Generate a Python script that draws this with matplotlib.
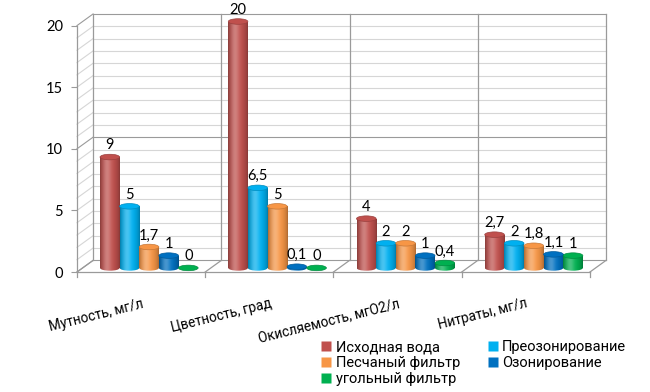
import numpy as np
import matplotlib.pyplot as plt
from matplotlib.patches import Ellipse
from matplotlib.lines import Line2D
from matplotlib.colors import to_rgb

plt.rcParams['font.family'] = ['Roboto', 'DejaVu Sans']

# данные
categories = ['Мутность, мг/л', 'Цветность, град', 'Окисляемость, мгО2/л', 'Нитраты, мг/л']
series_names = ['Исходная вода', 'Преозонирование', 'Песчаный фильтр', 'Озонирование', 'угольный фильтр']
colors = ['#C0504D', '#00B0F0', '#F79646', '#0070C0', '#00B050']
ishodnaya = [9, 20, 4, 2.7]
preozon = [5, 6.5, 2, 2]
pesok = [1.7, 5, 2, 1.8]
ozon = [1, 0.1, 1, 1.1]
ugol = [0, 0, 0.4, 1]
yticks = [0, 5, 10, 15, 20]

data = [ishodnaya, preozon, pesok, ozon, ugol]
n = len(categories)

fig = plt.figure(figsize=(6.5, 3.92), dpi=100)
ax = fig.add_axes([77 / 650, (392 - 272) / 392, (606 - 77) / 650, (272 - 14) / 392])

# псевдо-3D: сдвиг задней стенки
DX, DY = 0.125, 0.94
W = 0.153          # ширина столбика
BX, BY = 0.062, 0.33
EH = 0.45          # высота эллипса

major, minor = '#9a9a9a', '#d6d6d6'
x0, x1 = -0.5, n - 0.5
for v in range(0, 21):
    c = major if v % 10 == 0 else minor
    ax.plot([x0 + DX, x1 + DX], [v + DY, v + DY], color=c, lw=0.8, zorder=0, clip_on=False)
    ax.plot([x0, x0 + DX], [v, v + DY], color=c, lw=0.8, zorder=0, clip_on=False)
for b in np.arange(n + 1) - 0.5:
    ax.plot([b + DX, b + DX], [DY, 20 + DY], color=major, lw=0.9, zorder=0, clip_on=False)
    ax.plot([b, b + DX], [0, DY], color=major, lw=0.9, zorder=0, clip_on=False)
    ax.plot([b, b], [0, -0.4], color=major, lw=0.9, zorder=0, clip_on=False)
ax.plot([x0, x1], [0, 0], color=major, lw=0.9, zorder=0, clip_on=False)
ax.plot([x0, x0], [0, 20], color=major, lw=0.9, zorder=0, clip_on=False)


def gradient(col):
    base = np.array(to_rgb(col))
    t = np.linspace(0, 1, 64)[:, None]
    shade = 0.68 + 0.32 * np.sin(np.pi * t) ** 0.6
    hl = np.exp(-((t - 0.35) / 0.22) ** 2)
    rgb = base * shade
    rgb = rgb + (1 - rgb) * 0.28 * hl
    return np.clip(rgb, 0, 1)[None, :, :]


for j, (vals, col) in enumerate(zip(data, colors)):
    xs = np.arange(n) + (j - 2) * W + BX
    bars = ax.bar(xs, vals, W, bottom=BY, color='none', edgecolor='none', zorder=3)
    grad = gradient(col)
    dark = np.array(to_rgb(col)) * 0.8
    for rect, v, xc in zip(bars, vals, xs):
        if v > 0:
            e0 = Ellipse((xc, BY), W, EH, facecolor='none', edgecolor='none', zorder=3)
            ax.add_patch(e0)
            im0 = ax.imshow(grad, extent=(xc - W / 2, xc + W / 2, BY - EH / 2, BY + EH / 2),
                            aspect='auto', zorder=3, interpolation='bilinear')
            im0.set_clip_path(e0)
            im = ax.imshow(grad, extent=(xc - W / 2, xc + W / 2, BY, BY + v),
                           aspect='auto', zorder=3, interpolation='bilinear')
            im.set_clip_path(rect)
        cap = Ellipse((xc, BY + v), W, EH, facecolor=col, edgecolor=dark, lw=0.5, zorder=4)
        ax.add_patch(cap)
        lab = f'{v:g}'.replace('.', ',')
        ax.text(xc, BY + v + 0.37, lab, ha='center', va='bottom', fontsize=10.5,
                family=['Lato', 'DejaVu Sans'], zorder=5)

for s in ax.spines.values():
    s.set_visible(False)
ax.set_xticks([])
ax.set_yticks(yticks)
ax.tick_params(axis='y', length=4, color=major, pad=6, labelsize=10.5)
for t in ax.get_yticklabels():
    t.set_family(['Lato', 'DejaVu Sans'])
ax.set_xlim(x0, x1 + DX)
ax.set_ylim(0, 20 + DY)

# подписи категорий
for i, name in enumerate(categories):
    ax.text(i, -2.0, name, ha='right', va='top', rotation=14,
            rotation_mode='anchor', fontsize=9.8, clip_on=False)

order = [0, 2, 4, 1, 3]
handles = [Line2D([], [], marker='s', linestyle='', markersize=6.5,
                  markerfacecolor=colors[k], markeredgecolor='none') for k in order]
fig.legend(handles, [series_names[k] for k in order], ncol=2, loc='upper left',
           bbox_to_anchor=(321 / 650, 1 - 340.5 / 392), frameon=False, fontsize=10.5,
           handlelength=0.7, handletextpad=0.3, columnspacing=1.9, labelspacing=0.13,
           borderpad=0, borderaxespad=0)

fig.savefig('out.png', dpi=100)
